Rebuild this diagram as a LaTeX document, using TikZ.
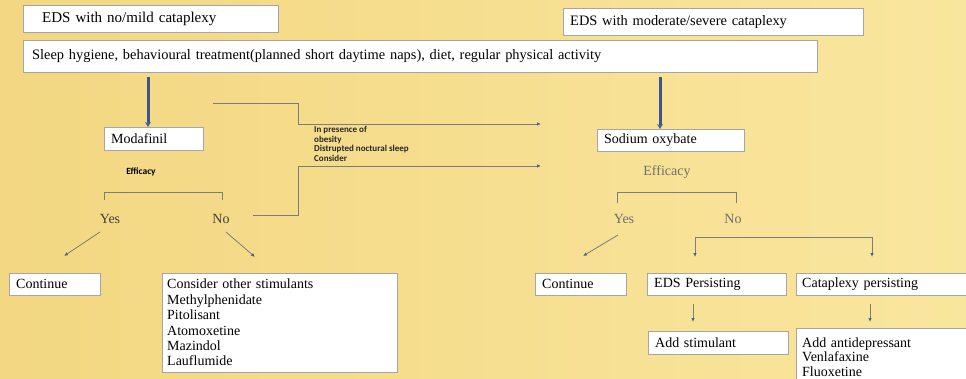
\documentclass[tikz,border=0pt]{standalone}
\usepackage{fontspec}
\setmainfont{Liberation Serif}
\newfontfamily\notefont{Carlito}
\usetikzlibrary{arrows.meta,shadows}

\definecolor{bgleft}{RGB}{243,215,130}
\definecolor{bgright}{RGB}{249,230,158}
\definecolor{thkblue}{RGB}{60,86,136}
\definecolor{lnk}{RGB}{125,125,125}
\definecolor{tipc}{RGB}{72,100,150}
\definecolor{softtxt}{RGB}{110,110,110}

\tikzset{
    bx/.style={draw=black!35, fill=white, anchor=north west, align=left,
        inner xsep=7pt, inner ysep=0pt, font=\fontsize{14}{15.4}\selectfont,
        drop shadow={shadow xshift=1.2pt, shadow yshift=-1.2pt, opacity=0.25}},
    yn/.style={font=\fontsize{14}{16}\selectfont, text=black!75},
    soft/.style={font=\fontsize{14}{16}\selectfont, text=softtxt},
    note/.style={anchor=north west, align=left, inner sep=0pt,
        font=\notefont\bfseries\fontsize{9}{9.7}\selectfont, text=black!85},
    thk/.style={line width=3pt, draw=thkblue, -{Stealth[length=5pt,width=6pt,color=tipc]}},
    thn/.style={line width=0.8pt, draw=lnk},
    tip/.style={-{Latex[length=4pt,width=3.5pt,color=tipc]}}
}

\begin{document}
\begin{tikzpicture}[x=1pt,y=-1pt]

    \useasboundingbox (0,0) rectangle (966,378);
    \clip (0,0) rectangle (966,378);
    \shade[left color=bgleft, right color=bgright] (0,0) rectangle (966,378);

    \node[bx, inner xsep=19pt, text width=217pt, minimum height=27pt, font=\fontsize{15}{16}\selectfont] (mild) at (23,5) {EDS with no/mild cataplexy};
    \node[bx, text width=286pt, minimum height=27pt, font=\fontsize{14.4}{16}\selectfont] (severe) at (563,8) {EDS with moderate/severe cataplexy};
    \node[bx, inner xsep=9pt, text width=776pt, minimum height=32pt, font=\fontsize{14.4}{16}\selectfont] (hyg) at (23,40)
        {Sleep hygiene, behavioural treatment(planned short daytime naps), diet, regular physical activity};

    \node[bx, text width=85pt, minimum height=23pt] (moda) at (104,127) {Modafinil};
    \node[bx, text width=133pt, minimum height=22pt] (oxy) at (597,129) {Sodium oxybate};

    \node[font=\notefont\bfseries\fontsize{9.5}{10}\selectfont] (effL) at (141,172) {Efficacy};
    \node[soft] (effR) at (667,172) {Efficacy};

    \node[yn] (yesL) at (110,219) {Yes};
    \node[yn] (noL) at (221,219) {No};
    \node[soft] (yesR) at (624,219) {Yes};
    \node[soft] (noR) at (733,219) {No};

    \node[note] (cond) at (314,126) {In presence of\\obesity\\Distrupted noctural sleep\\Consider};

    \node[bx, text width=77pt, minimum height=22pt] (contL) at (9,273) {Continue};
    \node[bx, inner xsep=5pt, text width=225pt, minimum height=99pt] (stim) at (162,273)
        {Consider other stimulants\\Methylphenidate\\Pitolisant\\Atomoxetine\\Mazindol\\Lauflumide};
    \node[bx, text width=77pt, minimum height=22pt] (contR) at (535,273) {Continue};
    \node[bx, text width=125pt, minimum height=22pt] (edsp) at (647,273) {EDS Persisting};
    \node[bx, inner xsep=6pt, text width=172pt, minimum height=22pt] (catp) at (796,273) {Cataplexy persisting};
    \node[bx, text width=126pt, minimum height=23pt] (addst) at (648,331) {Add stimulant};
    \node[bx, inner xsep=6pt, text width=172pt, minimum height=58pt, font=\fontsize{14}{14.6}\selectfont] (adddep) at (796,328)
        {Add antidepressant\\Venlafaxine\\Fluoxetine};

    \coordinate (hygL) at (148,72);
    \coordinate (hygR) at (660,72);
    \draw[thk, shorten <=5pt] (hygL) -- (hygL |- moda.north);
    \draw[thk, shorten <=5pt] (hygR) -- (hygR |- oxy.north);

    \coordinate (fl) at (213,103);
    \coordinate (nx) at (253,215);
    \coordinate (t1) at (541,124);
    \coordinate (t2) at (541,166);
    \draw[thn, tip] (fl) -| (298,124) -- (t1);
    \draw[thn, tip] (nx) -| (298,166) -- (t2);

    \draw[thn] (104,200) |- (222,192) -- (222,200);
    \draw[thn, tip] (100,232) -- (64,256);
    \draw[thn, tip] (226,232) -- (255,257);

    \draw[thn] (617,203) |- (736,192) -- (736,203);
    \draw[thn, tip] (618,235) -- (583,256);
    \draw[thn, tip] (872,237) -| (695,257);
    \draw[thn, tip] (872,237) -- (872,257);

    \draw[thn, tip] (edsp.south -| 693,0) ++(0,9) -- (693,322);
    \draw[thn, tip] (catp.south -| 870,0) ++(0,9) -- (870,322);

\end{tikzpicture}
\end{document}
